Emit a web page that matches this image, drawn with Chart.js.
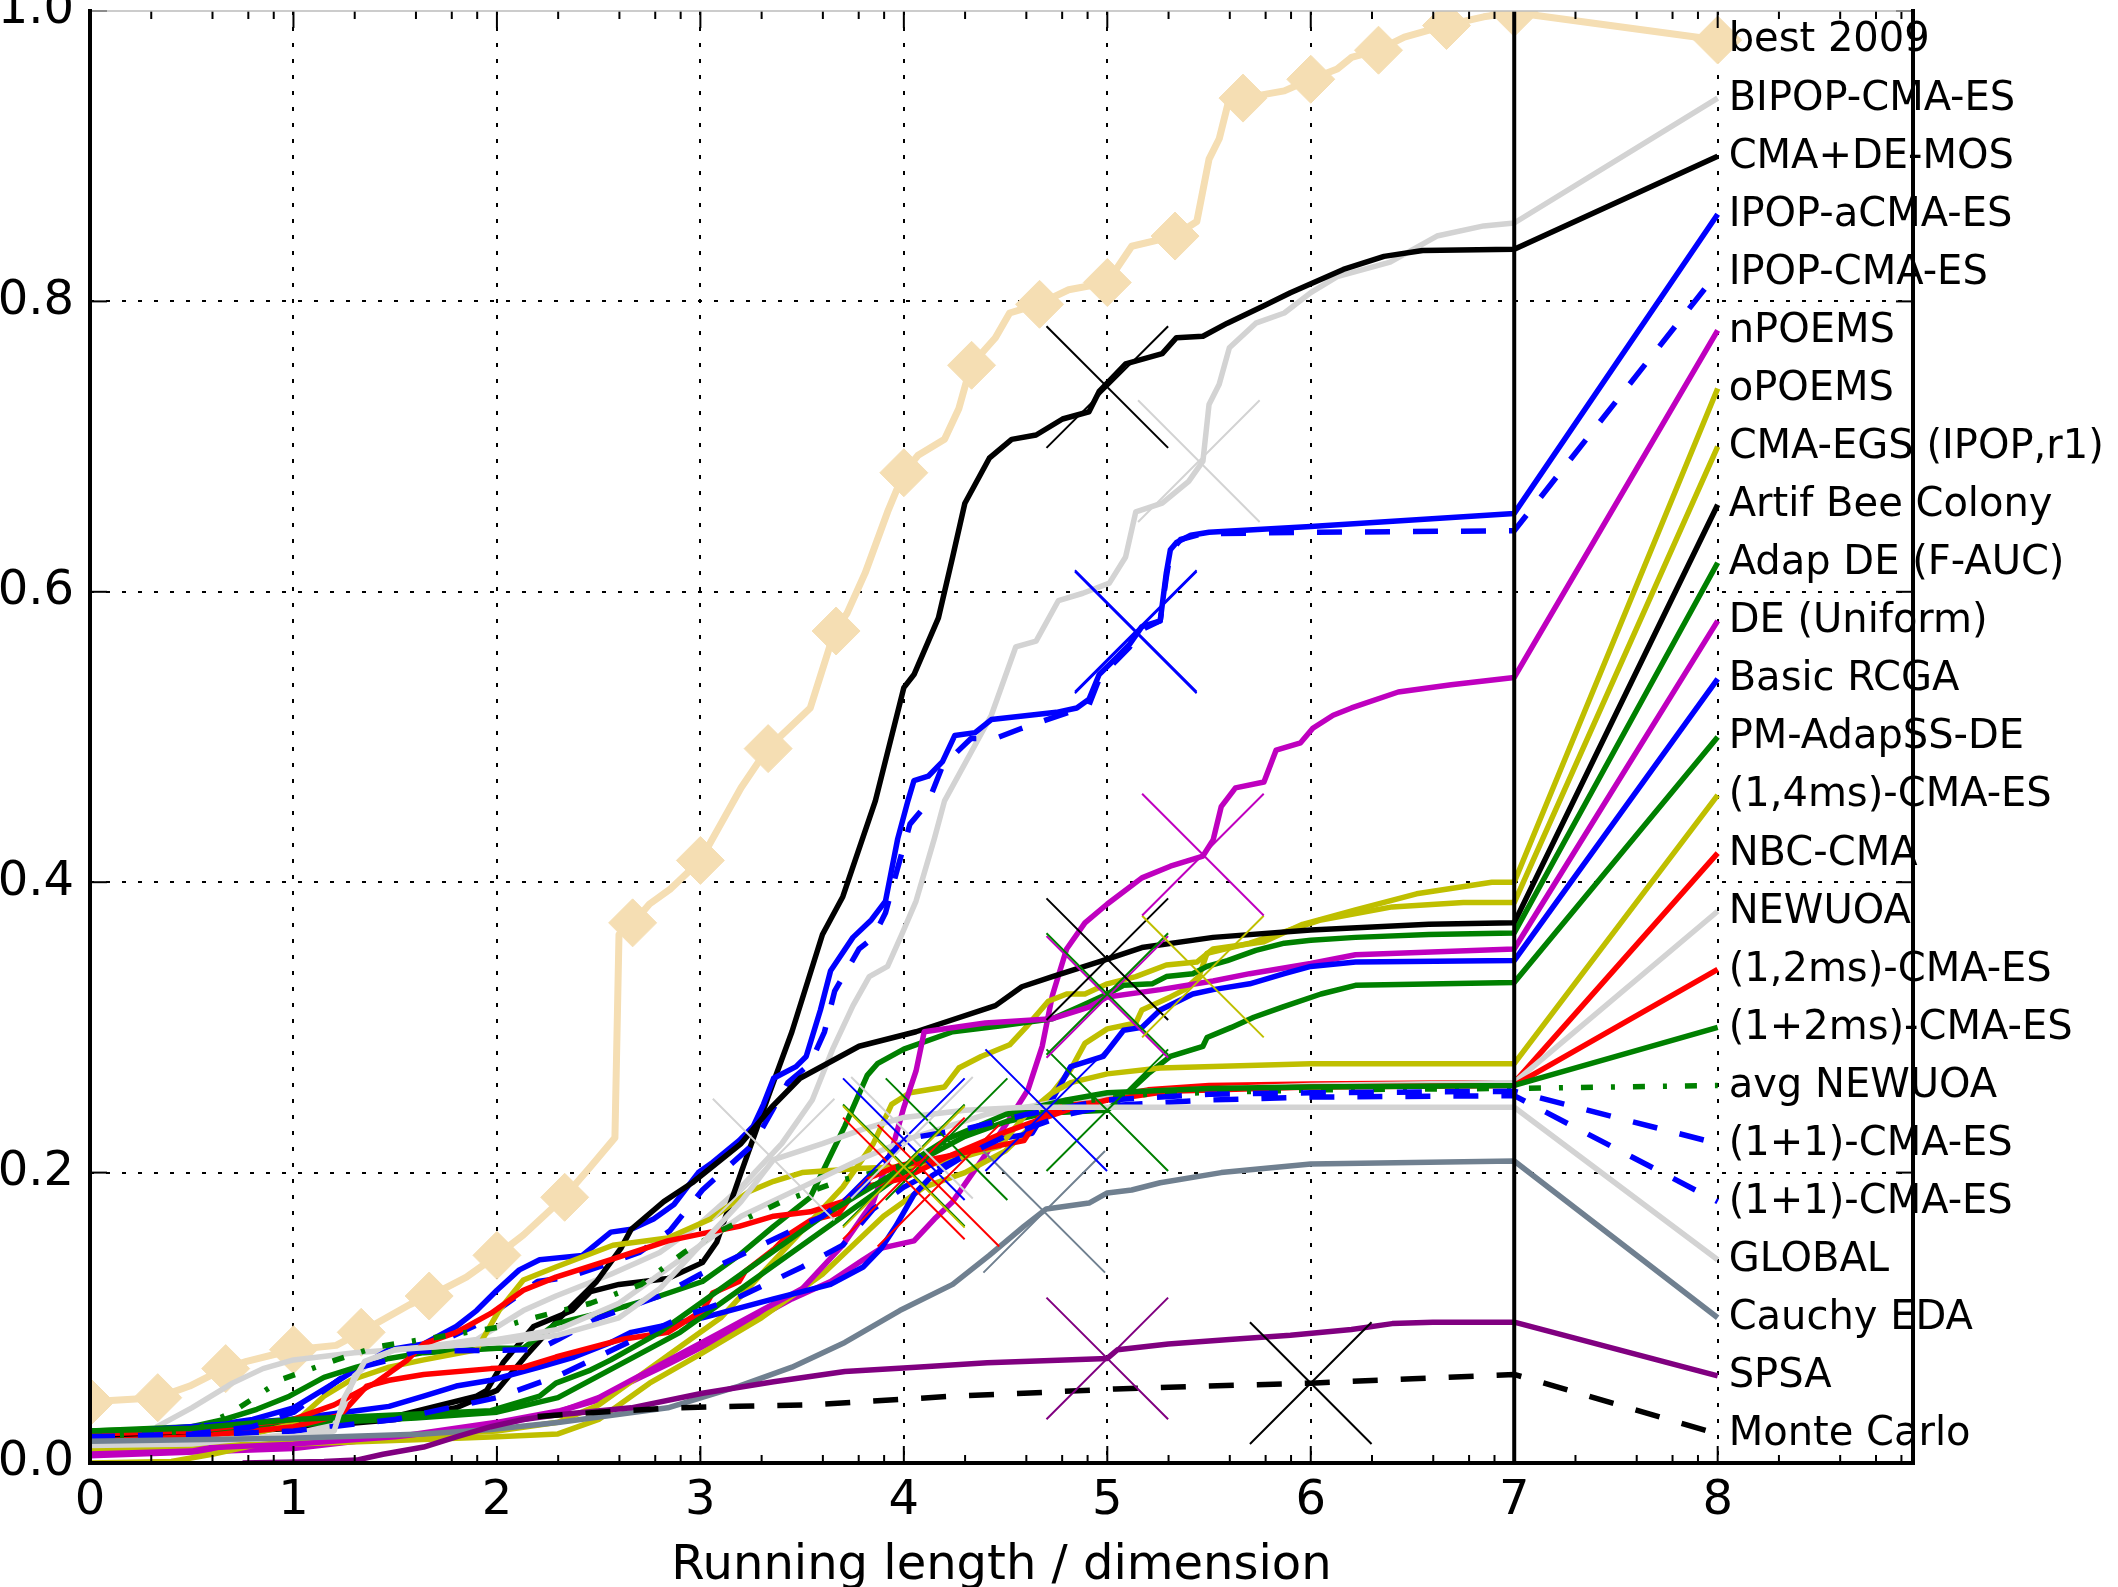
<!DOCTYPE html>
<html>
<head>
<meta charset="utf-8">
<script src="https://cdn.jsdelivr.net/npm/chart.js@4.4.0/dist/chart.umd.min.js"></script>
<style>
  html, body { margin: 0; padding: 0; background: #fff; overflow: hidden; }
  canvas { display: block; }
</style>
</head>
<body>
<canvas id="c" width="2118" height="1587"></canvas>
<script>
// ---- ECDF curves: [running length / dimension, proportion] ----
const best2009 = [[0,0.042],[0.1,0.043],[0.33,0.045],[0.49,0.053],[0.66,0.065],[0.77,0.07],[1.0,0.078],[1.21,0.081],[1.33,0.09],[1.57,0.109],[1.67,0.115],[1.85,0.128],[2.0,0.143],[2.13,0.157],[2.33,0.183],[2.46,0.204],[2.55,0.219],[2.58,0.224],[2.6,0.364],[2.67,0.372],[2.75,0.385],[2.85,0.395],[3.0,0.415],[3.1,0.44],[3.2,0.465],[3.33,0.492],[3.54,0.52],[3.66,0.573],[3.72,0.585],[3.81,0.613],[3.92,0.655],[4.0,0.682],[4.07,0.694],[4.2,0.705],[4.27,0.726],[4.33,0.756],[4.45,0.775],[4.52,0.792],[4.66,0.798],[4.81,0.808],[5.0,0.813],[5.12,0.838],[5.33,0.845],[5.44,0.855],[5.5,0.898],[5.55,0.912],[5.6,0.94],[5.67,0.94],[5.87,0.945],[6.0,0.953],[6.13,0.96],[6.2,0.968],[6.33,0.973],[6.46,0.982],[6.66,0.99],[6.85,0.996],[7.0,0.999]];
const bipopCmaEs = [[0,0.015],[0.3,0.016],[0.33,0.025],[0.5,0.038],[0.7,0.055],[0.85,0.065],[1.0,0.071],[1.3,0.076],[1.6,0.079],[1.9,0.085],[2.13,0.105],[2.29,0.115],[2.56,0.13],[2.8,0.145],[3.0,0.165],[3.2,0.19],[3.4,0.22],[3.55,0.25],[3.65,0.285],[3.75,0.315],[3.83,0.335],[3.92,0.342],[3.99,0.364],[4.06,0.387],[4.15,0.43],[4.2,0.456],[4.43,0.515],[4.55,0.562],[4.65,0.566],[4.76,0.594],[4.88,0.599],[5.01,0.606],[5.09,0.624],[5.14,0.655],[5.27,0.661],[5.4,0.676],[5.47,0.69],[5.5,0.729],[5.55,0.743],[5.6,0.768],[5.73,0.785],[5.87,0.792],[6.0,0.806],[6.13,0.817],[6.39,0.827],[6.62,0.845],[6.85,0.852],[7.0,0.854]];
const cmaDeMos = [[0,0.019],[0.5,0.021],[1.0,0.025],[1.5,0.032],[1.9,0.046],[1.95,0.05],[2.03,0.069],[2.18,0.094],[2.37,0.105],[2.46,0.118],[2.6,0.123],[2.84,0.127],[3.01,0.138],[3.08,0.152],[3.2,0.2],[3.34,0.255],[3.45,0.297],[3.6,0.364],[3.7,0.39],[3.86,0.456],[4.0,0.534],[4.05,0.543],[4.17,0.582],[4.24,0.624],[4.3,0.661],[4.42,0.692],[4.53,0.705],[4.65,0.708],[4.78,0.719],[4.91,0.724],[4.96,0.738],[5.09,0.757],[5.27,0.764],[5.34,0.775],[5.47,0.776],[5.59,0.785],[5.77,0.797],[5.9,0.806],[6.16,0.822],[6.36,0.831],[6.55,0.835],[7.0,0.836]];
const ipopACmaEs = [[0,0.02],[0.5,0.024],[0.8,0.03],[1.0,0.038],[1.2,0.055],[1.36,0.069],[1.47,0.078],[1.64,0.082],[1.8,0.094],[1.9,0.105],[2.0,0.119],[2.11,0.133],[2.21,0.14],[2.42,0.143],[2.56,0.159],[2.66,0.161],[2.77,0.168],[2.87,0.178],[2.99,0.2],[3.06,0.207],[3.19,0.222],[3.26,0.232],[3.31,0.247],[3.36,0.265],[3.47,0.273],[3.52,0.28],[3.59,0.312],[3.64,0.339],[3.75,0.362],[3.84,0.374],[3.91,0.387],[3.97,0.43],[4.02,0.456],[4.05,0.47],[4.12,0.473],[4.19,0.483],[4.25,0.501],[4.35,0.503],[4.43,0.512],[4.75,0.517],[4.85,0.52],[4.91,0.526],[4.96,0.543],[5.04,0.554],[5.11,0.564],[5.17,0.576],[5.26,0.58],[5.29,0.613],[5.31,0.629],[5.34,0.634],[5.41,0.639],[5.5,0.641],[6.0,0.645],[7.0,0.654]];
const ipopCmaEs = [[0,0.02],[0.5,0.023],[0.8,0.028],[1.0,0.035],[1.15,0.05],[1.3,0.065],[1.5,0.075],[1.7,0.082],[1.9,0.095],[2.0,0.105],[2.2,0.125],[2.35,0.128],[2.5,0.135],[2.7,0.145],[2.85,0.16],[3.01,0.188],[3.12,0.202],[3.24,0.217],[3.29,0.227],[3.43,0.262],[3.54,0.275],[3.61,0.297],[3.66,0.325],[3.78,0.354],[3.85,0.362],[3.91,0.379],[3.97,0.41],[4.03,0.44],[4.12,0.455],[4.19,0.48],[4.33,0.499],[4.45,0.499],[4.58,0.506],[4.81,0.517],[4.91,0.522],[4.96,0.54],[5.04,0.552],[5.11,0.562],[5.17,0.574],[5.26,0.58],[5.29,0.61],[5.31,0.627],[5.36,0.636],[5.47,0.64],[6.0,0.641],[7.0,0.642]];
const nPoems = [[0,0.005],[1.0,0.01],[1.5,0.018],[2.0,0.028],[2.31,0.036],[2.49,0.043],[2.66,0.056],[2.84,0.068],[3.01,0.08],[3.19,0.093],[3.45,0.113],[3.64,0.125],[3.8,0.14],[3.89,0.148],[4.05,0.153],[4.15,0.168],[4.24,0.18],[4.4,0.212],[4.52,0.237],[4.61,0.257],[4.68,0.287],[4.73,0.322],[4.8,0.354],[4.89,0.372],[5.0,0.385],[5.17,0.403],[5.31,0.411],[5.47,0.418],[5.52,0.429],[5.56,0.452],[5.63,0.465],[5.77,0.469],[5.83,0.491],[5.95,0.496],[6.01,0.506],[6.11,0.515],[6.2,0.52],[6.43,0.531],[6.69,0.536],[7.0,0.541]];
const oPoems = [[0,0.0],[0.4,0.001],[0.6,0.006],[0.8,0.012],[1.0,0.015],[1.5,0.018],[2.0,0.022],[2.3,0.028],[2.5,0.04],[2.7,0.06],[2.9,0.08],[3.1,0.1],[3.3,0.13],[3.5,0.16],[3.7,0.19],[3.85,0.22],[3.94,0.247],[4.03,0.255],[4.2,0.259],[4.27,0.272],[4.38,0.28],[4.52,0.288],[4.6,0.3],[4.71,0.318],[4.8,0.323],[4.89,0.323],[5.0,0.33],[5.14,0.335],[5.29,0.343],[5.44,0.345],[5.52,0.354],[5.77,0.359],[5.96,0.371],[6.22,0.381],[6.52,0.392],[6.89,0.4],[7.0,0.4]];
const cmaEgs = [[0,0.011],[1.0,0.013],[1.6,0.016],[2.0,0.018],[2.3,0.02],[2.5,0.03],[2.75,0.055],[3.0,0.075],[3.3,0.1],[3.6,0.13],[3.9,0.17],[4.1,0.19],[4.3,0.2],[4.5,0.215],[4.65,0.235],[4.73,0.255],[4.82,0.271],[4.89,0.289],[5.0,0.299],[5.14,0.303],[5.17,0.312],[5.31,0.321],[5.38,0.326],[5.45,0.335],[5.49,0.351],[5.7,0.358],[6.05,0.374],[6.4,0.383],[6.75,0.386],[7.0,0.386]];
const artifBeeColony = [[0,0.018],[0.5,0.02],[1.0,0.024],[1.5,0.03],[1.8,0.038],[2.0,0.05],[2.15,0.075],[2.31,0.1],[2.49,0.125],[2.61,0.148],[2.66,0.161],[2.82,0.18],[2.96,0.193],[3.2,0.22],[3.35,0.245],[3.49,0.265],[3.78,0.287],[4.06,0.297],[4.45,0.315],[4.58,0.328],[4.73,0.335],[5.0,0.347],[5.17,0.355],[5.52,0.362],[6.0,0.367],[6.58,0.371],[7.0,0.372]];
const adapDeFauc = [[0,0.022],[0.5,0.025],[0.66,0.03],[0.82,0.037],[0.98,0.046],[1.15,0.059],[1.31,0.066],[1.47,0.072],[1.64,0.076],[2.0,0.079],[2.13,0.079],[2.29,0.096],[2.56,0.105],[2.8,0.115],[3.01,0.125],[3.19,0.143],[3.36,0.163],[3.54,0.183],[3.71,0.232],[3.82,0.267],[3.87,0.275],[4.0,0.285],[4.24,0.297],[4.47,0.301],[4.73,0.306],[4.86,0.314],[5.0,0.323],[5.08,0.329],[5.22,0.33],[5.29,0.335],[5.42,0.337],[5.49,0.342],[5.59,0.346],[5.73,0.353],[5.87,0.358],[6.0,0.36],[6.22,0.362],[6.58,0.364],[7.0,0.365]];
const deUniform = [[0,0.008],[0.5,0.01],[1.0,0.013],[1.5,0.018],[2.0,0.026],[2.3,0.035],[2.5,0.045],[2.7,0.06],[2.9,0.075],[3.1,0.09],[3.3,0.105],[3.5,0.12],[3.7,0.15],[3.85,0.18],[3.95,0.22],[4.0,0.245],[4.06,0.27],[4.1,0.297],[4.4,0.303],[4.73,0.306],[4.91,0.314],[5.0,0.321],[5.26,0.326],[5.52,0.332],[5.7,0.337],[6.0,0.344],[6.22,0.35],[7.0,0.354]];
const basicRcga = [[0,0.02],[0.98,0.03],[1.31,0.036],[1.47,0.039],[1.64,0.046],[1.8,0.053],[1.97,0.057],[2.21,0.066],[2.38,0.073],[2.56,0.083],[2.66,0.09],[3.01,0.1],[3.36,0.113],[3.64,0.123],[3.8,0.135],[3.89,0.148],[3.96,0.163],[4.05,0.185],[4.14,0.198],[4.42,0.222],[4.63,0.227],[4.7,0.243],[4.82,0.273],[4.98,0.28],[5.08,0.298],[5.17,0.3],[5.26,0.312],[5.42,0.323],[5.52,0.326],[5.7,0.33],[5.87,0.337],[6.0,0.342],[6.22,0.345],[7.0,0.346]];
const pmAdapSsDe = [[0,0.021],[0.8,0.024],[1.2,0.028],[1.6,0.031],[2.0,0.035],[2.3,0.045],[2.5,0.06],[2.7,0.075],[2.9,0.09],[3.1,0.11],[3.3,0.13],[3.5,0.15],[3.7,0.17],[3.9,0.19],[4.1,0.21],[4.3,0.225],[4.5,0.235],[4.7,0.241],[5.0,0.243],[5.1,0.255],[5.2,0.268],[5.31,0.28],[5.47,0.287],[5.49,0.293],[5.61,0.3],[5.72,0.307],[5.86,0.314],[6.05,0.323],[6.22,0.329],[7.0,0.331]];
const cma14ms = [[0,0.01],[0.5,0.012],[0.8,0.02],[1.0,0.027],[1.15,0.046],[1.28,0.057],[1.47,0.066],[1.64,0.071],[1.9,0.078],[2.01,0.105],[2.13,0.126],[2.29,0.135],[2.57,0.15],[2.84,0.155],[3.05,0.168],[3.24,0.187],[3.36,0.194],[3.5,0.2],[3.8,0.203],[4.0,0.204],[4.2,0.207],[4.47,0.218],[4.6,0.24],[4.73,0.255],[4.82,0.262],[5.0,0.268],[5.26,0.272],[6.0,0.275],[7.0,0.275]];
const nbcCma = [[0,0.015],[0.5,0.018],[0.8,0.022],[1.0,0.025],[1.23,0.033],[1.36,0.053],[1.47,0.057],[1.64,0.061],[1.97,0.065],[2.13,0.066],[2.29,0.073],[2.61,0.085],[2.84,0.09],[3.01,0.105],[3.06,0.117],[3.19,0.125],[3.22,0.132],[3.36,0.147],[3.43,0.157],[3.54,0.167],[3.68,0.172],[3.75,0.185],[3.84,0.197],[3.98,0.205],[4.06,0.207],[4.24,0.212],[4.41,0.217],[4.59,0.222],[4.66,0.237],[4.76,0.245],[5.0,0.252],[5.2,0.257],[5.5,0.26],[6.0,0.261],[7.0,0.262]];
const newuoa = [[0,0.012],[0.5,0.013],[1.0,0.02],[1.2,0.026],[1.25,0.04],[1.3,0.06],[1.4,0.072],[1.5,0.078],[1.8,0.082],[2.0,0.085],[2.3,0.092],[2.6,0.11],[2.9,0.14],[3.2,0.17],[3.5,0.19],[3.8,0.21],[4.04,0.224],[4.4,0.24],[4.8,0.25],[5.2,0.256],[6.0,0.26],[7.0,0.262]];
const cma12ms = [[0,0.02],[0.5,0.022],[1.0,0.03],[1.2,0.04],[1.4,0.055],[1.56,0.071],[1.64,0.082],[1.8,0.09],[1.97,0.103],[2.13,0.119],[2.29,0.128],[2.56,0.14],[2.84,0.153],[3.01,0.158],[3.19,0.163],[3.36,0.17],[3.54,0.173],[3.7,0.18],[3.8,0.19],[4.0,0.196],[4.2,0.21],[4.5,0.228],[4.8,0.243],[5.0,0.25],[5.3,0.256],[6.0,0.259],[7.0,0.26]];
const cma1p2ms = [[0,0.022],[0.5,0.024],[1.0,0.03],[1.5,0.033],[1.97,0.036],[2.21,0.046],[2.29,0.055],[2.46,0.064],[2.56,0.071],[2.8,0.09],[3.0,0.11],[3.3,0.14],[3.6,0.17],[3.9,0.195],[4.21,0.223],[4.5,0.24],[4.8,0.25],[5.0,0.255],[5.5,0.258],[6.0,0.259],[7.0,0.26]];
const avgNewuoa = [[0,0.018],[0.5,0.022],[0.7,0.035],[0.84,0.048],[0.95,0.058],[1.21,0.071],[1.41,0.08],[2.03,0.094],[2.18,0.1],[2.46,0.11],[2.71,0.123],[2.92,0.145],[3.1,0.16],[3.4,0.18],[3.7,0.195],[4.0,0.205],[4.4,0.232],[4.8,0.248],[5.2,0.254],[6.0,0.257],[7.0,0.258]];
const cma1p1a = [[0,0.018],[0.5,0.02],[0.8,0.025],[1.0,0.035],[1.15,0.05],[1.3,0.065],[1.5,0.072],[1.6,0.077],[2.2,0.078],[2.3,0.085],[2.5,0.1],[2.8,0.115],[3.0,0.13],[3.3,0.15],[3.6,0.17],[3.8,0.19],[4.0,0.223],[4.3,0.23],[4.6,0.24],[5.0,0.25],[5.5,0.254],[6.0,0.255],[7.0,0.256]];
const cma1p1b = [[0,0.016],[1.0,0.022],[1.5,0.03],[2.0,0.045],[2.3,0.06],[2.6,0.08],[2.9,0.1],[3.2,0.115],[3.5,0.135],[3.7,0.15],[3.85,0.175],[4.0,0.19],[4.2,0.205],[4.5,0.225],[4.8,0.24],[5.0,0.246],[5.5,0.25],[6.0,0.252],[7.0,0.253]];
const globalSearch = [[0,0.013],[1.0,0.018],[1.2,0.022],[1.25,0.045],[1.35,0.07],[1.5,0.078],[2.0,0.083],[2.3,0.088],[2.6,0.1],[2.8,0.12],[3.0,0.15],[3.2,0.18],[3.36,0.209],[3.6,0.22],[3.8,0.23],[4.0,0.238],[4.3,0.243],[4.6,0.245],[7.0,0.245]];
const cauchyEda = [[0,0.015],[0.98,0.017],[1.64,0.02],[1.97,0.023],[2.31,0.028],[2.84,0.038],[3.19,0.053],[3.45,0.066],[3.71,0.083],[3.98,0.105],[4.24,0.123],[4.42,0.143],[4.59,0.163],[4.7,0.175],[4.91,0.179],[5.0,0.186],[5.12,0.188],[5.26,0.193],[5.56,0.2],[6.0,0.206],[7.0,0.208]];
const spsa = [[0.75,0],[1.15,0.001],[1.31,0.002],[1.44,0.006],[1.64,0.011],[1.8,0.018],[1.97,0.025],[2.13,0.03],[2.29,0.033],[2.66,0.038],[3.01,0.048],[3.36,0.056],[3.71,0.063],[4.06,0.066],[4.41,0.069],[5.0,0.072],[5.05,0.078],[5.3,0.082],[5.6,0.085],[5.9,0.088],[6.2,0.092],[6.4,0.096],[6.6,0.097],[7.0,0.097]];
const monteCarlo = [[2.2,0.032],[2.5,0.035],[2.87,0.038],[3.19,0.039],[3.54,0.04],[3.89,0.043],[4.24,0.046],[4.59,0.048],[5.04,0.051],[5.5,0.053],[6.0,0.055],[6.5,0.058],[7.0,0.061]];

// legend entries, in the order they are stacked at the right
const seriesNames = ['best 2009','BIPOP-CMA-ES','CMA+DE-MOS','IPOP-aCMA-ES','IPOP-CMA-ES','nPOEMS','oPOEMS','CMA-EGS (IPOP,r1)','Artif Bee Colony','Adap DE (F-AUC)','DE (Uniform)','Basic RCGA','PM-AdapSS-DE','(1,4ms)-CMA-ES','NBC-CMA','NEWUOA','(1,2ms)-CMA-ES','(1+2ms)-CMA-ES','avg NEWUOA','(1+1)-CMA-ES','(1+1)-CMA-ES','GLOBAL','Cauchy EDA','SPSA','Monte Carlo'];
const labelY = [0.98,0.94,0.90,0.86,0.82,0.78,0.74,0.70,0.66,0.62,0.58,0.54,0.50,0.46,0.42,0.38,0.34,0.30,0.26,0.22,0.18,0.14,0.10,0.06,0.02];
const labelX = 8;
const budgetX = 7;

// diamonds on the best 2009 curve
const diamondX = [0,0.333,0.667,1,1.333,1.667,2,2.333,2.667,3,3.333,3.667,4,4.333,4.667,5,5.333,5.667,6,6.333,6.667,7,8];
const diamondY = [0.042,0.045,0.065,0.078,0.09,0.115,0.143,0.183,0.372,0.415,0.492,0.573,0.682,0.756,0.798,0.813,0.845,0.94,0.953,0.973,0.99,0.999,0.98];

// cross markers: series index and position
const crossSeries = [2,1,3,4,5,7,8,9,10,11,12,13,14,15,16,17,18,19,21,22,23,24];
const crossX = [5.0,5.45,5.14,5.14,5.47,5.47,5.0,5.0,5.0,4.7,5.0,4.0,4.17,4.04,4.0,4.21,4.0,4.0,3.36,4.69,5.0,6.0];
const crossY = [0.741,0.69,0.573,0.572,0.419,0.335,0.347,0.323,0.321,0.243,0.243,0.204,0.191,0.224,0.196,0.223,0.205,0.223,0.209,0.173,0.072,0.055];

// axis ticks
const xTicks = [0,1,2,3,4,5,6,7,8];
const yTicks = [0,0.2,0.4,0.6,0.8,1.0];
const xMinorOffsets = [0.30103,0.60206,0.77815,0.90309];

const curves = [best2009,bipopCmaEs,cmaDeMos,ipopACmaEs,ipopCmaEs,nPoems,oPoems,cmaEgs,artifBeeColony,adapDeFauc,deUniform,basicRcga,pmAdapSsDe,cma14ms,nbcCma,newuoa,cma12ms,cma1p2ms,avgNewuoa,cma1p1a,cma1p1b,globalSearch,cauchyEda,spsa,monteCarlo];

const WHEAT = '#f5deb3', LGRAY = '#d3d3d3', BLACK = '#000000', BLUE = '#0000ff', MAG = '#bf00bf',
      OLIVE = '#bfbf00', GREEN = '#008000', RED = '#ff0000', SLATE = '#708090', PURPLE = '#800080';
const colors = [WHEAT,LGRAY,BLACK,BLUE,BLUE,MAG,OLIVE,OLIVE,BLACK,GREEN,MAG,BLUE,GREEN,OLIVE,RED,LGRAY,RED,GREEN,GREEN,BLUE,BLUE,LGRAY,SLATE,PURPLE,BLACK];
const DASH = [25,23], DASHDOT = [12,18,4,18];
const dashes = curves.map((c, i) => (i === 4 || i === 19 || i === 20 || i === 24) ? DASH : (i === 18 ? DASHDOT : []));

const datasets = [];
curves.forEach((pts, i) => {
  datasets.push({
    data: pts.concat([[labelX, labelY[i]]]),
    borderColor: colors[i],
    borderWidth: i === 0 ? 7 : 5.5,
    borderDash: dashes[i],
    borderJoinStyle: 'round',
    pointRadius: 0,
    fill: false,
    tension: 0,
    order: -i
  });
});
datasets.push({
  data: diamondX.map((x, k) => [x, diamondY[k]]),
  showLine: false,
  pointStyle: 'rectRot',
  pointRadius: 24,
  pointBackgroundColor: WHEAT,
  pointBorderColor: WHEAT,
  pointBorderWidth: 1,
  order: -0.5
});
crossSeries.forEach((s, k) => {
  datasets.push({
    data: [[crossX[k], crossY[k]]],
    showLine: false,
    pointStyle: 'crossRot',
    pointRadius: 86,
    pointBorderColor: colors[s],
    pointBorderWidth: 2,
    order: -100
  });
});
datasets.push({
  data: [[budgetX, 0], [budgetX, 1]],
  borderColor: BLACK,
  borderWidth: 4,
  pointRadius: 0,
  order: -200
});

const framePlugin = {
  id: 'frame',
  afterDatasetsDraw(chart) {
    const { ctx, chartArea: a, scales: { x, y } } = chart;
    ctx.save();
    // names at the end of each connector
    ctx.font = '40px "DejaVu Sans"';
    ctx.fillStyle = '#000';
    ctx.textAlign = 'left';
    ctx.textBaseline = 'middle';
    seriesNames.forEach((name, i) => {
      ctx.fillText(name, x.getPixelForValue(labelX) + 11, y.getPixelForValue(labelY[i]) + 1);
    });
    const seg = (x1, y1, x2, y2) => { ctx.beginPath(); ctx.moveTo(x1, y1); ctx.lineTo(x2, y2); ctx.stroke(); };
    ctx.setLineDash([]);
    ctx.strokeStyle = '#000';
    ctx.lineWidth = 2;
    // inward tick marks
    xTicks.forEach(v => {
      const px = x.getPixelForValue(v);
      seg(px, a.bottom, px, a.bottom - 17);
      seg(px, a.top, px, a.top + 17);
      xMinorOffsets.forEach(m => {
        if (v + m <= x.max) {
          const pm = x.getPixelForValue(v + m);
          seg(pm, a.bottom, pm, a.bottom - 8);
          seg(pm, a.top, pm, a.top + 8);
        }
      });
    });
    yTicks.forEach(v => {
      const py = y.getPixelForValue(v);
      seg(a.left, py, a.left + 17, py);
      seg(a.right, py, a.right - 17, py);
    });
    // frame
    ctx.strokeStyle = '#bbbbbb';
    ctx.lineWidth = 1.5;
    seg(a.left, a.top, a.right, a.top);
    ctx.strokeStyle = '#000';
    ctx.lineWidth = 4;
    ctx.lineCap = 'square';
    seg(a.left, a.top, a.left, a.bottom);
    seg(a.left, a.bottom, a.right, a.bottom);
    seg(a.right, a.top, a.right, a.bottom);
    ctx.restore();
  }
};

Chart.defaults.font.family = '"DejaVu Sans"';
new Chart(document.getElementById('c'), {
  type: 'line',
  data: { datasets },
  options: {
    responsive: false,
    animation: false,
    events: [],
    layout: { autoPadding: false, padding: { top: 11, right: 205, left: 0, bottom: 0 } },
    plugins: { legend: { display: false }, tooltip: { enabled: false } },
    scales: {
      x: {
        type: 'linear',
        min: 0,
        max: 8.96,
        afterBuildTicks: s => { s.ticks = xTicks.map(v => ({ value: v })); },
        afterFit: s => { s.height = 124; s.paddingLeft = 0; s.paddingRight = 0; },
        ticks: { color: '#000', font: { size: 48 }, padding: 10, autoSkip: false, maxRotation: 0, callback: v => String(v) },
        grid: {
          color: c => (c.tick && (c.tick.value === 0 || c.tick.value === 7)) ? 'rgba(0,0,0,0)' : '#000',
          lineWidth: 2,
          drawTicks: false
        },
        border: { display: false, dash: [4, 12] },
        title: { display: true, text: 'Running length / dimension', color: '#000', font: { size: 48 }, padding: { top: 0, bottom: -8 } }
      },
      y: {
        type: 'linear',
        min: 0,
        max: 1,
        afterBuildTicks: s => { s.ticks = yTicks.map(v => ({ value: v })); },
        afterFit: s => { s.width = 90; s.paddingTop = 0; s.paddingBottom = 0; },
        ticks: { color: '#000', font: { size: 48 }, padding: 16, callback: v => v.toFixed(1) },
        grid: {
          color: c => (c.tick && (c.tick.value === 0 || c.tick.value === 1)) ? 'rgba(0,0,0,0)' : '#000',
          lineWidth: 2,
          drawTicks: false
        },
        border: { display: false, dash: [4, 12] }
      }
    }
  },
  plugins: [framePlugin]
});
</script>
</body>
</html>
